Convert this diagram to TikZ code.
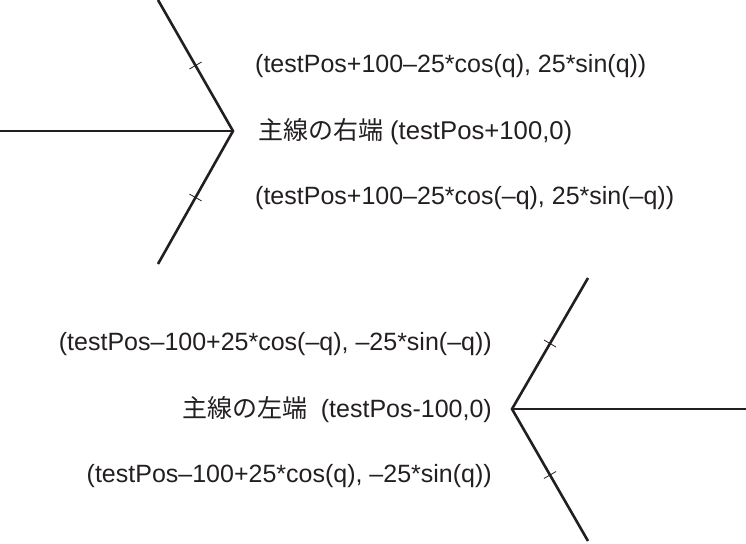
\documentclass[tikz,border=0pt]{standalone}
\usepackage{fontspec}
\setmainfont{Liberation Sans}
\newfontfamily\jp{Noto Sans CJK JP}
\definecolor{tinte}{RGB}{35,31,32}
\tikzset{
  linie/.style={draw=tinte, line width=2.6pt},
  strich/.style={draw=tinte, line width=0.8pt, sloped, minimum width=0pt, minimum height=14pt, inner sep=0pt},
  beschr/.style={text=tinte, font=\fontsize{25}{30}\selectfont, inner sep=0pt}
}

\begin{document}
\begin{tikzpicture}[x=1pt, y=-1pt]
      \useasboundingbox (0,0) rectangle (746,543);

      % Hauptlinie, rechtes Ende
      \coordinate (R) at (233,131);
      \coordinate (Rlinks) at (0,131);
      \coordinate (Roben) at (158,0);
      \coordinate (Runten) at (158,264);
      \draw[linie] (Rlinks) -- (R);
      \draw[linie] (Roben) -- (R) -- (Runten);
      \path (R) -- (Roben) node[strich, midway] {}; % Markierung oben
      \path (R) -- (Runten) node[strich, midway] {}; % Markierung unten

      % Hauptlinie, linkes Ende
      \coordinate (L) at (512,409);
      \coordinate (Lrechts) at (746,409);
      \coordinate (Loben) at (588,278);
      \coordinate (Lunten) at (588,541);
      \draw[linie] (L) -- (Lrechts);
      \draw[linie] (Loben) -- (L) -- (Lunten);
      \path (L) -- (Loben) node[strich, midway] {};
      \path (L) -- (Lunten) node[strich, midway] {};

      % Beschriftung rechts
      \node[beschr, anchor=west] (rOben) at (255,66) {(testPos+100–25*cos(q), 25*sin(q))};
      \node[beschr, anchor=west] (rMitte) at (258,132) {{\jp 主線の右端} {\fontsize{25.7}{30}\selectfont(testPos+100,0)}};
      \node[beschr, anchor=west] (rUnten) at (255,198) {(testPos+100–25*cos(–q), 25*sin(–q))};

      % Beschriftung links
      \node[beschr, anchor=east] (lOben) at (492,344) {(testPos–100+25*cos(–q), –25*sin(–q))};
      \node[beschr, anchor=east] (lMitte) at (492,410) {{\jp 主線の左端}\ \ (testPos-100,0)};
      \node[beschr, anchor=east] (lUnten) at (492,476) {(testPos–100+25*cos(q), –25*sin(q))};

\end{tikzpicture}
\end{document}
